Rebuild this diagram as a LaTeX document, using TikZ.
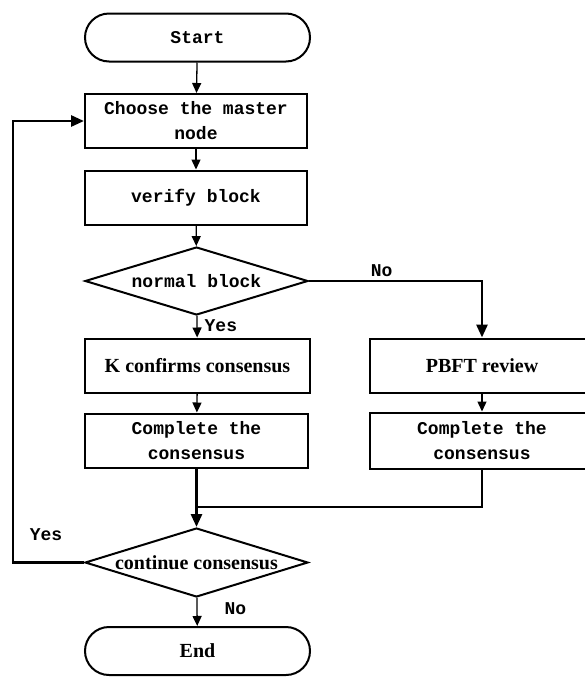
\documentclass[tikz,border=0pt]{standalone}
\usepackage{fontspec}
\setmainfont{Liberation Serif}
\setmonofont{Liberation Mono}
\usepackage{tikz}
\usetikzlibrary{shapes.geometric, arrows.meta, positioning, calc}

\begin{document}
\begin{tikzpicture}[x=1pt, y=-1pt,
    tbox/.style={rectangle, rounded corners=24pt, draw, line width=2pt, minimum width=225pt, minimum height=48pt,
      font=\ttfamily\bfseries\fontsize{18}{25}\selectfont, inner sep=0pt, align=center},
    pbox/.style={rectangle, draw, line width=2pt, minimum width=222pt, minimum height=54pt,
      font=\ttfamily\bfseries\fontsize{18}{25}\selectfont, inner sep=0pt, align=center},
    sbox/.style={pbox, font=\rmfamily\bfseries\fontsize{20}{24}\selectfont},
    dbox/.style={diamond, draw, line width=2pt, minimum width=223pt, minimum height=68pt, inner sep=0pt,
      font=\ttfamily\bfseries\fontsize{18}{22}\selectfont},
    lbl/.style={font=\ttfamily\bfseries\fontsize{18}{22}\selectfont, inner sep=1pt},
    arr/.style={-{Triangle[length=10pt, width=9pt]}, line width=1.3pt},
    tarr/.style={-{Triangle[length=13pt, width=11pt]}, line width=2.8pt}
  ]
  \useasboundingbox (0,0) rectangle (585,678);
  % main column
  \node[tbox] (start) at (197.5,37.5) {Start};
  \node[pbox] (choose) at (196,121) {Choose the master\\node};
  \node[pbox] (verify) at (196,197.5) {verify block};
  \node[dbox] (normal) at (196.5,281) {\makebox[0pt]{normal block}};
  \node[sbox, minimum width=225pt] (kconf) at (197.5,365.5) {K confirms consensus};
  \node[pbox, minimum width=223pt] (done1) at (196.5,440.5) {Complete the\\consensus};
  \node[dbox, minimum height=69pt] (cont) at (196.5,562.5)
    {\makebox[0pt]{\rmfamily\bfseries\fontsize{20}{24}\selectfont continue consensus}};
  \node[tbox] (finish) at (197.5,651) {\rmfamily\bfseries\fontsize{20}{24}\selectfont End};
  % right column
  \node[sbox, minimum width=224pt] (pbft) at (482,365.5) {PBFT review};
  \node[pbox, minimum width=224pt, minimum height=56pt] (done2) at (482,440.5) {Complete the\\consensus};
  \coordinate (merge) at (196.5,507);
  \coordinate (back) at (13,562.5);
  % connectors
  \draw[arr] (start) -- (choose);
  \draw[arr] (choose) -- (verify);
  \draw[arr] (verify) -- (normal);
  \draw[arr] (normal) -- node[lbl, right, pos=0.45, xshift=6pt] {Yes} (kconf);
  \draw[arr] (kconf) -- (done1);
  \draw[tarr] (normal.east) -| node[lbl, above, pos=0.21, yshift=2pt] {No} (pbft.north);
  \draw[arr] (pbft) -- (done2);
  \draw[tarr] (done1) -- (cont);
  \draw[line width=2.8pt] (done2.south) |- (merge);
  \draw[tarr] (cont.west) -- (back) |- (choose.west);
  \node[lbl] (yes2) at (46,535) {Yes};
  \draw[arr] (cont) -- node[lbl, right, pos=0.4, xshift=26pt] {No} (finish);
\end{tikzpicture}
\end{document}
